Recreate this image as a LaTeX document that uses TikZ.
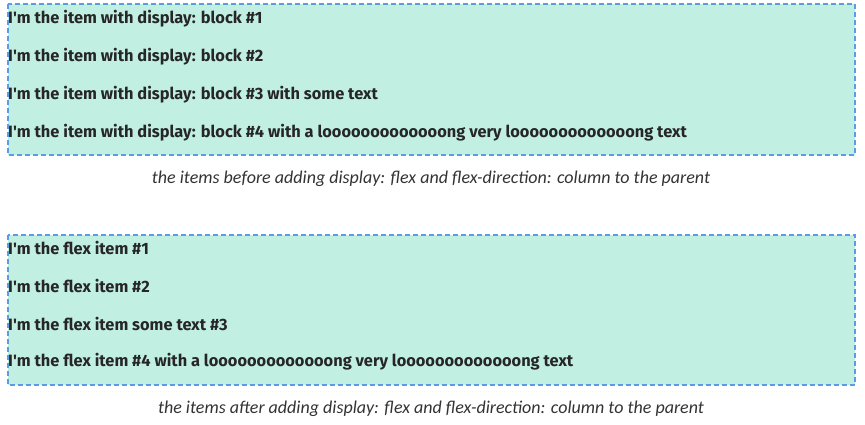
\documentclass[tikz,border=0pt]{standalone}
\usepackage{fontspec}
\setmainfont{Carlito}
\newfontfamily\itemfont{Fira Sans}
\definecolor{boxfill}{HTML}{C1F0E2}
\definecolor{boxline}{HTML}{5B9BE8}
\begin{document}
\begin{tikzpicture}[x=1pt,y=-1pt]
\tikzstyle{parent}=[fill=boxfill,draw=boxline,line width=2pt,dash pattern=on 5pt off 3pt]
\tikzstyle{item}=[anchor=west,inner sep=0pt,text=black!85,font=\itemfont\bfseries\fontsize{16.4}{19}\selectfont]
\tikzstyle{caption}=[inner sep=0pt,text=black!80,font=\itshape\fontsize{18}{21}\selectfont]
\useasboundingbox (0,0) rectangle (865,425);
% before: display block
\draw[parent] (8,4) rectangle (855,155);
\node[item] (before1) at (8,19) {I'm the item with display: block \#1};
\node[item] (before2) at (8,57) {I'm the item with display: block \#2};
\node[item] (before3) at (8,95) {I'm the item with display: block \#3 with some text};
\node[item] (before4) at (8,133) {I'm the item with display: block \#4 with a looooooooooooong very looooooooooooong text};
\node[caption] (captionBefore) at (431,179) {the items before adding display: flex and flex-direction: column to the parent};
% after: display flex
\draw[parent] (8,235) rectangle (855,385);
\node[item] (after1) at (8,248) {I'm the flex item \#1};
\node[item] (after2) at (8,286) {I'm the flex item \#2};
\node[item] (after3) at (8,324) {I'm the flex item some text \#3};
\node[item] (after4) at (8,362) {I'm the flex item \#4 with a looooooooooooong very looooooooooooong text};
\node[caption] (captionAfter) at (431,409) {the items after adding display: flex and flex-direction: column to the parent};
\end{tikzpicture}
\end{document}
